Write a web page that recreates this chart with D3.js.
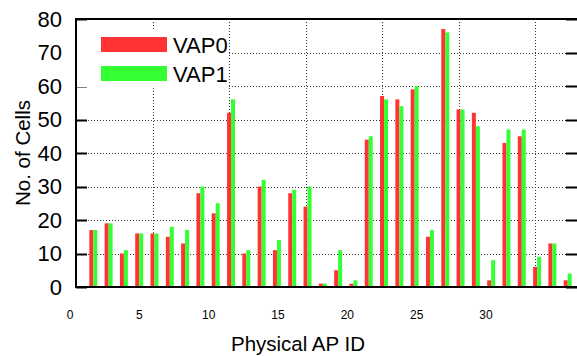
<!DOCTYPE html>
<meta charset="utf-8">
<body style="margin:0;background:#fff">
<script src="https://d3js.org/d3.v7.min.js"></script>
<script>

  var apIds = d3.range(1, 33);
  var vap0 = [17, 19, 10, 16, 16, 15, 13, 28, 22, 52, 10, 30, 11, 28, 24, 1,
              5, 1, 44, 57, 56, 59, 15, 77, 53, 52, 2, 43, 45, 6, 13, 2];
  var vap1 = [17, 19, 11, 16, 16, 18, 17, 30, 25, 56, 11, 32, 14, 29, 30, 1,
              11, 2, 45, 56, 54, 60, 17, 76, 53, 48, 8, 47, 47, 9, 13, 4];
  var seriesNames = ["VAP0", "VAP1"];
  var colors = ["#ff3333", "#33ff33"];
  var yTicks = [0, 10, 20, 30, 40, 50, 60, 70, 80];
  var xTicks = [0, 5, 10, 15, 20, 25, 30];

  var left = 76, right = 581, top_ = 19, bottom = 287;

  var xs = d3.scaleLinear().domain([0, 33]).range([left, right]);
  var ys = d3.scaleLinear().domain([0, 80]).range([bottom, top_]);
  // tick labels in the original sit on their own spacing
  var xLab = d3.scaleLinear().domain([0, 30]).range([70, 486]);

  var svg = d3.select("body").append("svg")
      .attr("width", 577)
      .attr("height", 356);

  // frame first
  svg.append("rect")
      .attr("x", left).attr("y", top_)
      .attr("width", 520).attr("height", bottom - top_)
      .attr("fill", "none").attr("stroke", "#000").attr("stroke-width", 2);

  // grid
  yTicks.slice(1, -1).forEach(function(d) {
    svg.append("line")
        .attr("x1", left).attr("x2", 577)
        .attr("y1", Math.round(ys(d)) + 0.5).attr("y2", Math.round(ys(d)) + 0.5)
        .attr("stroke", "#333").attr("stroke-width", 1).attr("stroke-dasharray", "1,2");
  });
  xTicks.slice(1).forEach(function(d) {
    svg.append("line")
        .attr("x1", Math.round(xs(d)) + 0.5).attr("x2", Math.round(xs(d)) + 0.5)
        .attr("y1", top_).attr("y2", bottom)
        .attr("stroke", "#333").attr("stroke-width", 1).attr("stroke-dasharray", "1,2");
  });

  // y ticks, both sides
  yTicks.forEach(function(d) {
    var yy = Math.round(ys(d)) + 0.5;
    svg.append("line").attr("x1", left).attr("x2", left + 11).attr("y1", yy).attr("y2", yy)
        .attr("stroke", "#000").attr("stroke-width", 2);
    svg.append("line").attr("x1", 566).attr("x2", 577).attr("y1", yy).attr("y2", yy)
        .attr("stroke", "#000").attr("stroke-width", 2);
  });

  // legend background hides the grid
  svg.append("rect")
      .attr("x", left + 1).attr("y", 30)
      .attr("width", xs(10) - left - 2).attr("height", 57)
      .attr("fill", "#fff");

  // bars
  var bw = 0.26;
  [vap0, vap1].forEach(function(vals, s) {
    svg.append("g").selectAll("rect")
        .data(vals)
        .enter().append("rect")
        .attr("x", function(d, i) { return xs(apIds[i] - bw / 2 + s * bw); })
        .attr("width", xs(bw) - xs(0))
        .attr("y", function(d) { return ys(d); })
        .attr("height", function(d) { return bottom - ys(d); })
        .attr("fill", colors[s]);
  });

  svg.append("line").attr("x1", left).attr("x2", 577).attr("y1", bottom).attr("y2", bottom)
      .attr("stroke", "#000").attr("stroke-width", 2);

  svg.append("g").selectAll("text")
      .data(yTicks)
      .enter().append("text")
      .attr("x", 62)
      .attr("y", function(d) { return ys(d); })
      .attr("dy", "0.36em")
      .attr("text-anchor", "end")
      .attr("font-family", "Liberation Sans, Arial, sans-serif")
      .attr("font-size", 22)
      .text(function(d) { return d; });

  // x tick labels
  svg.append("g").selectAll("text")
      .data(xTicks)
      .enter().append("text")
      .attr("x", function(d) { return xLab(d); })
      .attr("y", 319)
      .attr("text-anchor", "middle")
      .attr("font-family", "Liberation Sans, Arial, sans-serif")
      .attr("font-size", 12)
      .text(function(d) { return d; });

  // legend
  seriesNames.forEach(function(name, i) {
    svg.append("rect")
        .attr("x", 101).attr("y", 37 + i * 29)
        .attr("width", 66).attr("height", 15)
        .attr("fill", colors[i]);
    svg.append("text")
        .attr("x", 173).attr("y", 53 + i * 29)
        .attr("font-family", "Liberation Sans, Arial, sans-serif")
        .attr("font-size", 22)
        .text(name);
  });

  // axis titles
  svg.append("text")
      .attr("x", 298).attr("y", 351)
      .attr("text-anchor", "middle")
      .attr("font-family", "Liberation Sans, Arial, sans-serif")
      .attr("font-size", 20.5)
      .text("Physical AP ID");
  svg.append("text")
      .attr("transform", "translate(30," + (top_ + bottom) / 2 + ") rotate(-90)")
      .attr("text-anchor", "middle")
      .attr("font-family", "Liberation Sans, Arial, sans-serif")
      .attr("font-size", 20.5)
      .text("No. of Cells");

</script>
